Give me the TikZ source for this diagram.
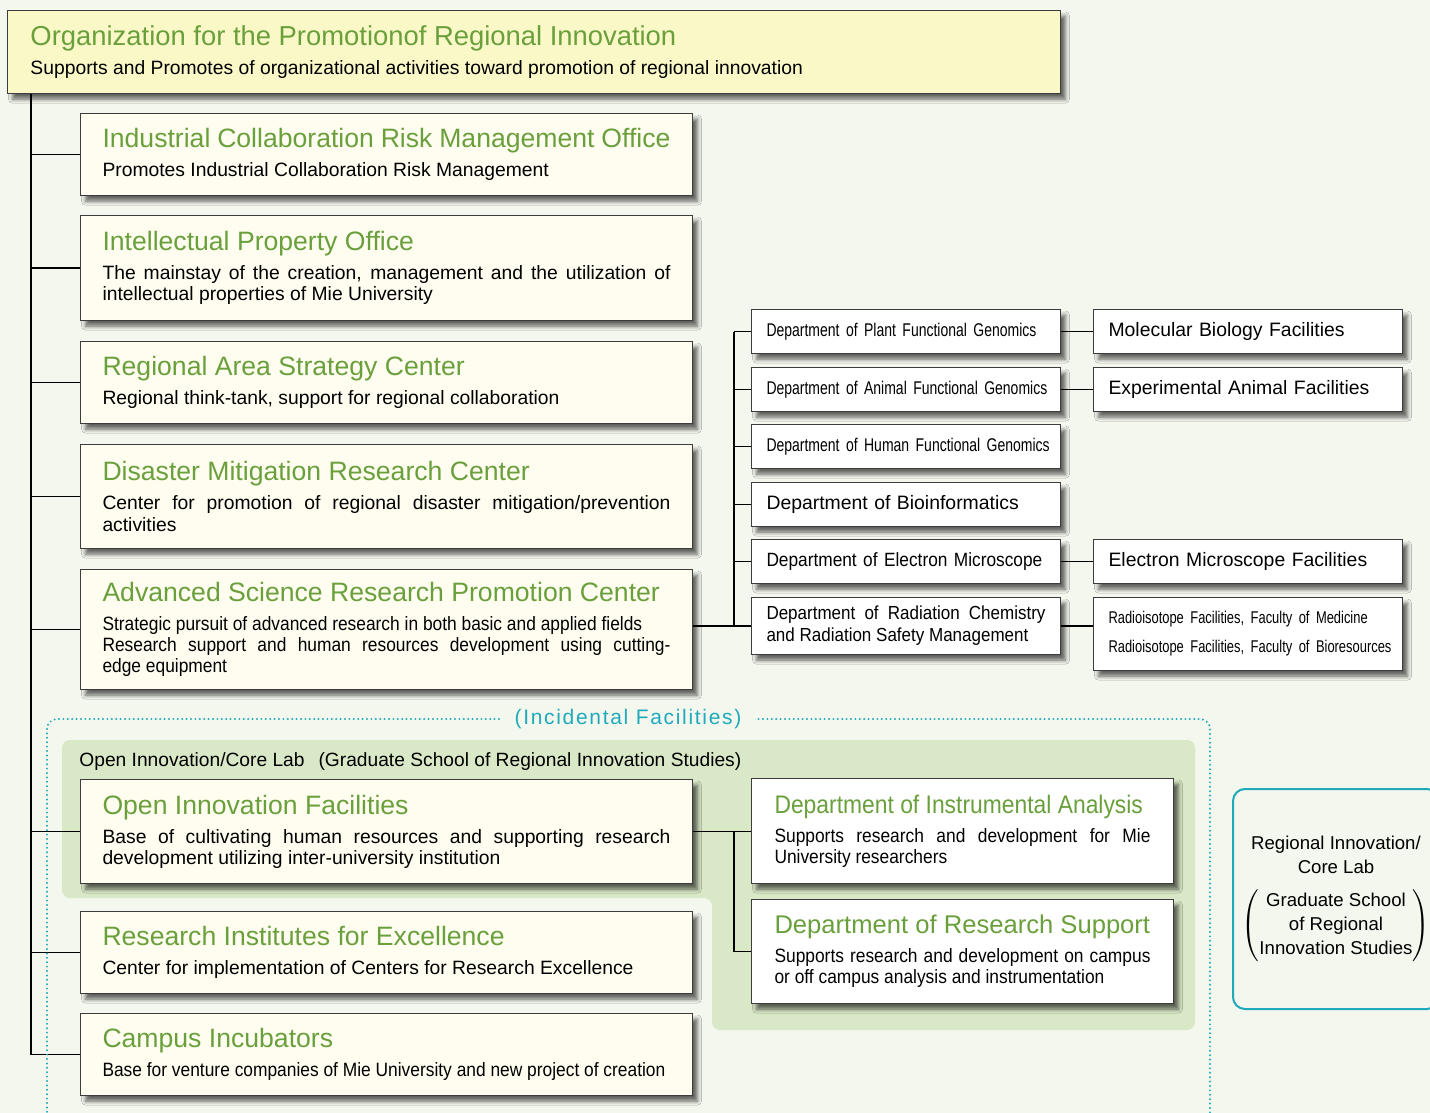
\documentclass[tikz,border=0pt]{standalone}
\usepackage{fontspec}
\setmainfont{Liberation Sans}
\newfontfamily\narrowfont{Liberation Sans}[FakeStretch=0.9]
\newfontfamily\condfont{Liberation Sans}[FakeStretch=0.76]
\usetikzlibrary{shadows.blur}
\definecolor{pagebg}{RGB}{244,247,238}
\definecolor{orgyellow}{RGB}{251,248,200}
\definecolor{boxcream}{RGB}{255,253,240}
\definecolor{titlegreen}{RGB}{106,160,60}
\definecolor{panelgreen}{RGB}{217,232,199}
\definecolor{frameteal}{RGB}{30,170,187}
\definecolor{boxline}{RGB}{60,60,60}
\newcommand{\descfont}{\fontsize{9.65}{10.6}\selectfont}
\newcommand{\deptfont}{\fontsize{9.7}{11}\selectfont}
\newcommand{\slimtext}{\fontsize{9.2}{11}\condfont}
\newcommand{\unittitle}[2][13.3]{{\fontsize{#1}{15}\selectfont\color{titlegreen}#2\par}\vspace{3.9pt}}

\begin{document}
\begin{tikzpicture}[x=0.5pt, y=-0.5pt,
    connect/.style={line width=0.9pt},
    boxshadow/.style={blur shadow={shadow xshift=2.5pt, shadow yshift=-2.8pt, shadow blur radius=2pt, shadow opacity=60}},
    unitbox/.style={boxshadow, draw=boxline, line width=0.5pt, fill=boxcream, anchor=north west, inner xsep=11pt, inner ysep=0pt, text width=284pt, align=justify, font=\descfont},
    deptbox/.style={boxshadow, draw=boxline, line width=0.5pt, fill=white, anchor=north west, inner xsep=7.5pt, inner ysep=0pt, text width=139.5pt, minimum height=22pt, align=left, font=\deptfont},
    labbox/.style={unitbox, fill=white, text width=188pt, inner xsep=11.5pt}]
  \useasboundingbox (0,0) rectangle (1430,1113);
  \fill[pagebg] (0,0) rectangle (1430,1113);
  % incidental facilities panel
  \fill[panelgreen, rounded corners=4pt] (62,740) -- (1195,740) -- (1195,1030) -- (712,1030) -- (712,898) -- (62,898) -- cycle;
  \node[anchor=west, inner sep=0pt, font=\fontsize{9.6}{11}\selectfont] (oicl) at (79,762) {Open Innovation/Core Lab\hspace{7pt}(Graduate School of Regional Innovation Studies)};

  % main column
  \node[unitbox, fill=orgyellow, text width=503.5pt, inner xsep=11.5pt, minimum height=41.5pt] (org) at (7,10) {\unittitle[13.7]{Organization for the Promotionof Regional Innovation}Supports and Promotes of organizational activities toward promotion of regional innovation};
  \node[unitbox, minimum height=41pt] (icrm) at (80,113) {\unittitle{Industrial Collaboration Risk Management Office}Promotes Industrial Collaboration Risk Management};
  \node[unitbox, minimum height=52.5pt] (ipo) at (80,215) {\unittitle{Intellectual Property Office}The mainstay of the creation, management and the utilization of\linebreak intellectual properties of Mie University};
  \node[unitbox, minimum height=41pt] (rasc) at (80,341) {\unittitle{Regional Area Strategy Center}Regional think-tank, support for regional collaboration};
  \node[unitbox, minimum height=52pt] (dmrc) at (80,444) {\unittitle{Disaster Mitigation Research Center}Center for promotion of regional disaster mitigation/prevention\linebreak activities};
  \node[unitbox, minimum height=60pt] (asrc) at (80,569) {\unittitle{Advanced Science Research Promotion Center}\narrowfont Strategic pursuit of advanced research in both basic and applied fields\\Research support and human resources development using cutting-\linebreak edge equipment};
  \node[unitbox, minimum height=52pt] (oif) at (80,779) {\unittitle{Open Innovation Facilities}Base of cultivating human resources and supporting research\linebreak development utilizing inter-university institution};
  \node[unitbox, minimum height=41pt] (rie) at (80,911) {\unittitle{Research Institutes for Excellence}Center for implementation of Centers for Research Excellence};
  \node[unitbox, minimum height=41pt] (ci) at (80,1013) {\unittitle{Campus Incubators}\narrowfont Base for venture companies of Mie University and new project of creation};

  % departments of the advanced science center
  \node[deptbox] (plant) at (751,309) {\slimtext\mbox{Department of Plant Functional Genomics}};
  \node[deptbox] (animal) at (751,367) {\slimtext\mbox{Department of Animal Functional Genomics}};
  \node[deptbox] (human) at (751,424) {\slimtext\mbox{Department of Human Functional Genomics}};
  \node[deptbox] (bioinf) at (751,482) {\mbox{Department of Bioinformatics}};
  \node[deptbox] (elec) at (751,539) {\fontsize{9.6}{11}\narrowfont\mbox{Department of Electron Microscope}};
  \node[deptbox, minimum height=28.5pt, align=justify] (radchem) at (751,597) {\fontsize{9.45}{11}\narrowfont Department of Radiation Chemistry\linebreak and Radiation Safety Management};

  \node[deptbox] (molbio) at (1093,309) {\mbox{Molecular Biology Facilities}};
  \node[deptbox] (expanim) at (1093,367) {\mbox{Experimental Animal Facilities}};
  \node[deptbox] (emf) at (1093,539) {\mbox{Electron Microscope Facilities}};
  \node[deptbox, minimum height=36.5pt] (radiso) at (1093,597) {\fontsize{8.5}{14.5}\condfont\mbox{Radioisotope Facilities, Faculty of Medicine}\\\mbox{Radioisotope Facilities, Faculty of Bioresources}\par};

  % departments of the open innovation facilities
  \node[labbox, minimum height=52.5pt] (ida) at (751,778) {\unittitle[12.7]{\narrowfont Department of Instrumental Analysis}\narrowfont Supports research and development for Mie\linebreak University researchers};
  \node[labbox, minimum height=52pt] (drs) at (751,899) {\unittitle[12.8]{Department of Research Support}\narrowfont Supports research and development on campus\linebreak or off campus analysis and instrumentation};

  % connectors
  \coordinate (trunk) at (31,0);
  \coordinate (dbranch) at (734,0);
  \foreach \u in {icrm,ipo,rasc,dmrc,asrc,oif,rie,ci}
    \draw[connect] (org.south -| trunk) |- (\u.west);
  \foreach \d in {plant,animal,human,bioinf,elec}
    \draw[connect] (\d.west) -- (\d.west -| dbranch);
  \draw[connect] (plant.west -| dbranch) -- (radchem.west -| dbranch);
  \draw[connect] (radchem.west) -- (radchem.west -| asrc.east);
  \draw[connect] (plant) -- (molbio);
  \draw[connect] (animal) -- (expanim);
  \draw[connect] (elec) -- (emf);
  \draw[connect] (radchem.east) -- (radchem.east -| radiso.west);
  \draw[connect] (oif.east) -- (oif.east -| ida.west);
  \draw[connect] (oif.east -| dbranch) |- (drs.west);

  % incidental facilities frame
  \draw[frameteal, line width=1.1pt, line cap=round, dash pattern=on 0pt off 2.2pt, rounded corners=5pt] (47,1125) -- (47,719) -- (1210,719) -- (1210,1125);
  \node[fill=pagebg, text=frameteal, inner xsep=7pt, inner ysep=2pt, font=\fontsize{10.5}{12}\selectfont\addfontfeature{LetterSpace=8}] (incid) at (628,719) {(Incidental Facilities)};

  \node[draw=frameteal, line width=1pt, rounded corners=6pt, minimum width=103pt, minimum height=110pt, align=center, font=\fontsize{9.3}{12}\selectfont] (rcl) at (1336,899) {Regional Innovation/\\Core Lab\\[7pt]$\left(\begin{tabular}{@{}c@{}}Graduate School\\of Regional\\Innovation Studies\end{tabular}\right)$};
\end{tikzpicture}
\end{document}
